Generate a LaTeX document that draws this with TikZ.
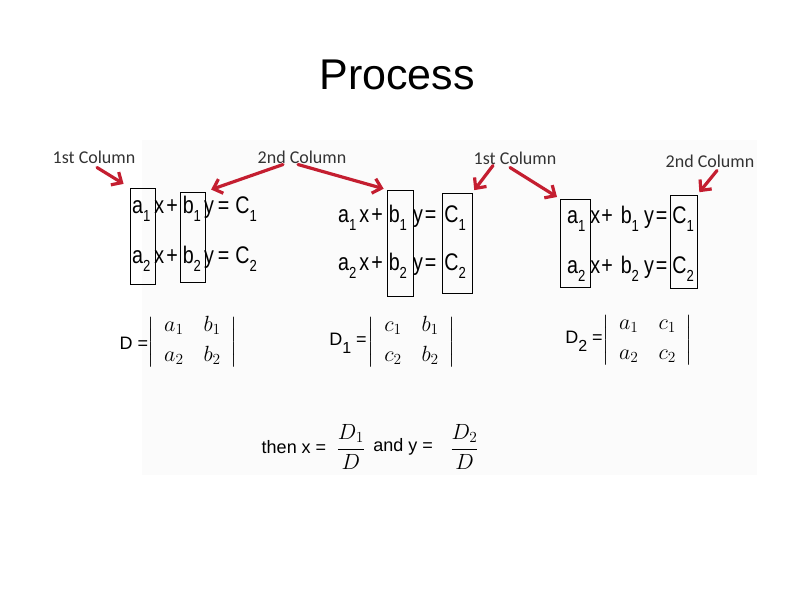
\RequirePackage{fix-cm}
\documentclass[tikz,border=0pt]{standalone}
\usepackage[no-math]{fontspec}
\usepackage{amsmath}
\setmainfont{Liberation Sans}
\newfontfamily\calibri{Carlito}
\newfontfamily\eqfont[FakeStretch=0.82]{Liberation Sans}
\usetikzlibrary{arrows.meta, positioning, calc}
\definecolor{PenRed}{RGB}{196,30,48}
\newcommand\lowidx[1]{\raisebox{-8pt}{\fontsize{16}{16}\selectfont #1}}
% one row: index, then the six gaps
\newcommand\eqrow[7]{a\lowidx{#1}\kern#2pt x\kern#3pt+\kern#4pt b\lowidx{#1}\kern#5pt y\kern#6pt=\kern#7pt C\lowidx{#1}}

\begin{document}
\begin{tikzpicture}[x=1pt, y=-1pt,
    colbox/.style={rectangle, draw, line width=0.9pt, inner sep=0pt},
    lbl/.style={font=\calibri\fontsize{18}{20}\selectfont, text=black!80, inner sep=1pt},
    eqn/.style={anchor=base west, inner sep=0pt, font=\eqfont\fontsize{24}{26}\selectfont},
    dlabel/.style={inner sep=0pt, font=\fontsize{18}{20}\selectfont},
    det/.style={inner sep=0pt, font=\fontsize{22}{22}\selectfont},
    pen/.style={-{Straight Barb[length=8pt,width=15pt]}, line width=3.2pt, PenRed,
                line cap=round, shorten >=3pt}
]
\useasboundingbox (0,0) rectangle (794,595);
\fill[black!1.5] (142,140) rectangle (757,475);

% Title
\node[font=\fontsize{43}{46}\selectfont] (title) at (397,75) {Process};

% Column labels
\node[lbl] (lblA) at (94,157) {1st Column};
\node[lbl] (lblB) at (302,157) {2nd Column};
\node[lbl] (lblC) at (515,158) {1st Column};
\node[lbl] (lblD) at (710,161) {2nd Column};

% Equations
\node[eqn] (eqA1) at (132,213) {\eqrow{1}{4}{2}{5}{3}{4}{6}};
\node[eqn] (eqA2) at (132,263) {\eqrow{2}{4}{2}{5}{3}{4}{6}};
\node[eqn] (eqB1) at (338,222) {\eqrow{1}{3}{2}{6}{6}{2}{8}};
\node[eqn] (eqB2) at (338,270) {\eqrow{2}{3}{2}{6}{6}{2}{8}};
\node[eqn] (eqC1) at (567,223) {\eqrow{1}{5}{1}{8}{5}{2}{5}};
\node[eqn] (eqC2) at (567,273) {\eqrow{2}{5}{1}{8}{5}{2}{5}};

% Column boxes
\node[colbox, minimum width=25pt, minimum height=96pt] (aboxA) at (142.5,236) {};
\node[colbox, minimum width=25pt, minimum height=90pt] (bboxA) at (192.5,237) {};
\node[colbox, minimum width=26pt, minimum height=106pt] (bboxB) at (400,243) {};
\node[colbox, minimum width=30pt, minimum height=100pt] (cboxB) at (457,243) {};
\node[colbox, minimum width=30pt, minimum height=88pt] (aboxC) at (575,243) {};
\node[colbox, minimum width=27pt, minimum height=93pt] (cboxC) at (683.5,241.5) {};

% Arrows
\draw[pen, shorten >=7pt] ([xshift=3pt, yshift=-3pt]lblA.south) -- (aboxA.north west);
\draw[pen, shorten >=6pt] ([xshift=-19pt]lblB.south) -- (bboxA.north east);
\draw[pen] ([xshift=-4pt]lblB.south) -- (bboxB.north west);
\draw[pen] ([xshift=-22pt]lblC.south) -- (cboxB.north east);
\draw[pen] ([xshift=-5pt, yshift=-2pt]lblC.south) -- (aboxC.north west);
\draw[pen] ([xshift=7pt, yshift=-2pt]lblD.south) -- (cboxC.north east);

% Determinants
\arraycolsep=10pt
\node[dlabel] (dA) at (134,343) {D =};
\node[det] (detA) at (192.5,342) {$\left|\begin{array}{cc} a_1 & b_1\\[8pt] a_2 & b_2 \end{array}\right|$};
\node[dlabel] (dB) at (348,343) {D\lowidx{1} =};
\node[det] (detB) at (411.5,342) {$\left|\begin{array}{cc} c_1 & b_1\\[8pt] c_2 & b_2 \end{array}\right|$};
\node[dlabel] (dC) at (584,341) {D\lowidx{2} =};
\node[det] (detC) at (647.5,340) {$\left|\begin{array}{cc} a_1 & c_1\\[8pt] a_2 & c_2 \end{array}\right|$};

% Result
\node[dlabel] (then) at (294,447) {then x =};
\node[inner sep=0pt, font=\fontsize{22}{26}\selectfont, right=10pt of then] (fracX) {$\dfrac{D_1}{D}$};
\node[dlabel, right=8pt of fracX] (andy) {and y =};
\node[inner sep=0pt, font=\fontsize{22}{26}\selectfont, right=17pt of andy] (fracY) {$\dfrac{D_2}{D}$};
\end{tikzpicture}
\end{document}
